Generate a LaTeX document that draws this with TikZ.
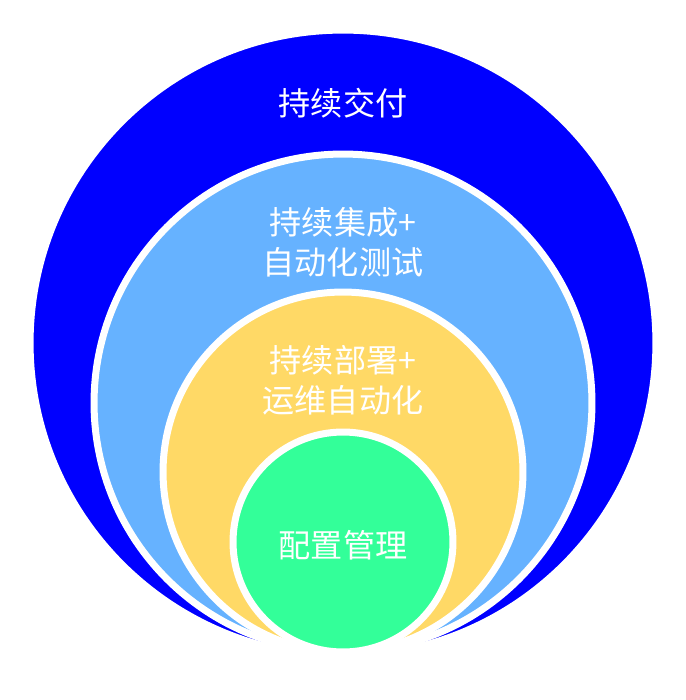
\documentclass[tikz,border=0pt]{standalone}
\usepackage{fontspec}
\setmainfont{Noto Sans CJK SC}
\usetikzlibrary{positioning}

\definecolor{cdblue}{HTML}{0000FF}
\definecolor{ciblue}{HTML}{66B2FF}
\definecolor{cdyellow}{HTML}{FFD966}
\definecolor{cmgreen}{HTML}{33FF99}

\begin{document}
\begin{tikzpicture}[
  x=0.02cm, y=-0.02cm,
  font=\fontsize{18.3}{23}\selectfont,
  ring/.style={circle, draw=white, line width=0.14cm, inner sep=0pt},
  ringtext/.style={text=white, align=center},
]
\useasboundingbox (0,0) rectangle (686,700);

% rings, outer to inner, all touching at the bottom
\node[ring, fill=cdblue, minimum size=12.52cm] (delivery) at (343,343) {};
\node[ring, fill=ciblue, minimum size=9.96cm] (integration) at (343,403) {};
\node[ring, fill=cdyellow, minimum size=7.2cm] (deploy) at (343,472) {};
\node[ring, fill=cmgreen, minimum size=4.4cm] (config) at (343,542) {};

% labels at the top of each ring
\node[ringtext] (deliverytext) at (343,103) {持续交付};
\node[ringtext] (integrationtext) at (343,242) {持续集成+\\自动化测试};
\node[ringtext] (deploytext) at (343,380) {持续部署+\\运维自动化};
\node[ringtext] (configtext) at (343,545) {配置管理};

\end{tikzpicture}
\end{document}
